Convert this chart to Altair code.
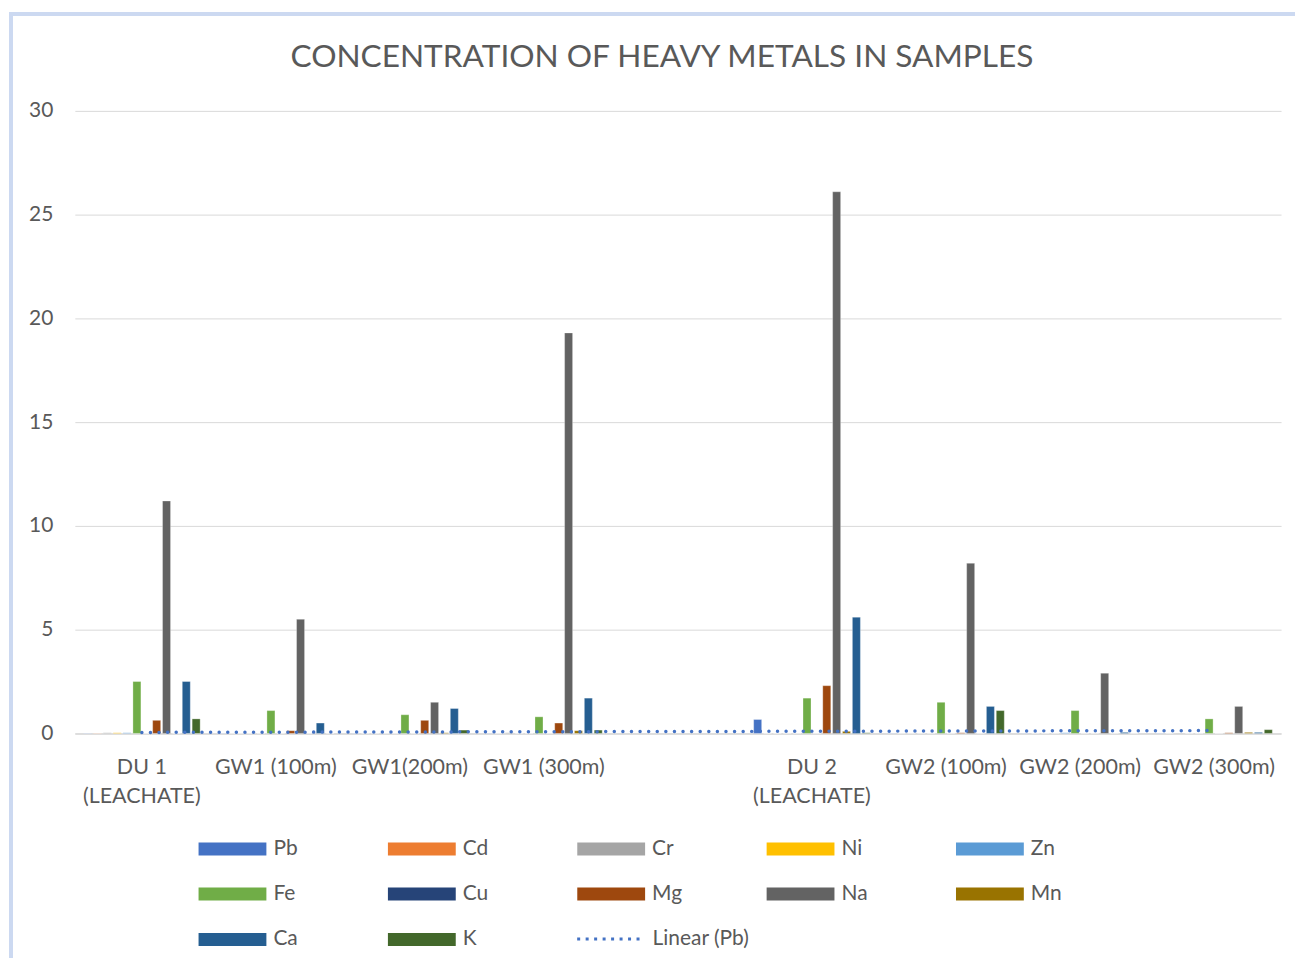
import altair as alt
import pandas as pd

categories = ["DU 1 (LEACHATE)", "GW1 (100m)", "GW1(200m)", "GW1 (300m)", " ",
              "DU 2 (LEACHATE)", "GW2 (100m)", "GW2 (200m)", "GW2 (300m)"]
metals = ["Pb", "Cd", "Cr", "Ni", "Zn", "Fe", "Cu", "Mg", "Na", "Mn", "Ca", "K"]
colors = ["#4472C4", "#ED7D31", "#A5A5A5", "#FFC000", "#5B9BD5", "#70AD47",
          "#264478", "#9E480E", "#636363", "#997300", "#255E91", "#43682B"]

# values per category (None = empty category)
Pb = [0.01, 0.01, 0.01, 0.01, None, 0.67, 0.01, 0.01, 0.01]
Cd = [0.01, 0.0, 0.0, 0.0, None, 0.0, 0.0, 0.0, 0.0]
Cr = [0.03, 0.0, 0.0, 0.03, None, 0.0, 0.0, 0.0, 0.02]
Ni = [0.03, 0.0, 0.0, 0.0, None, 0.0, 0.0, 0.0, 0.0]
Zn = [0.03, 0.0, 0.0, 0.0, None, 0.0, 0.0, 0.03, 0.0]
Fe = [2.5, 1.1, 0.9, 0.8, None, 1.7, 1.5, 1.1, 0.7]
Cu = [0.0, 0.0, 0.0, 0.0, None, 0.0, 0.0, 0.0, 0.0]
Mg = [0.63, 0.13, 0.63, 0.5, None, 2.3, 0.03, 0.0, 0.03]
Na = [11.2, 5.5, 1.5, 19.3, None, 26.1, 8.2, 2.9, 1.3]
Mn = [0.0, 0.0, 0.03, 0.13, None, 0.1, 0.0, 0.0, 0.05]
Ca = [2.5, 0.5, 1.2, 1.7, None, 5.6, 1.3, 0.05, 0.05]
K = [0.7, 0.0, 0.16, 0.16, None, 0.03, 1.1, 0.0, 0.18]

series = {"Pb": Pb, "Cd": Cd, "Cr": Cr, "Ni": Ni, "Zn": Zn, "Fe": Fe, "Cu": Cu,
          "Mg": Mg, "Na": Na, "Mn": Mn, "Ca": Ca, "K": K}

rows = []
for i, cat in enumerate(categories):
    for m in metals:
        v = series[m][i]
        if v is not None:
            rows.append({"category": cat, "metal": m, "value": v})
df = pd.DataFrame(rows)

trend_df = pd.DataFrame([{"idx": i + 1, "Pb": v} for i, v in enumerate(Pb) if v is not None])

FONT = "Lato"
GRAY = "#595959"

border = alt.Chart(pd.DataFrame({"a": [0]})).mark_rect(
    fillOpacity=0, stroke="#CCD9F1", strokeWidth=4
).encode(
    x=alt.value(-64), x2=alt.value(1400), y=alt.value(-97), y2=alt.value(1000)
)

bars = alt.Chart(df).mark_bar(stroke="white", strokeWidth=0.6, strokeOpacity=0.5).encode(
    x=alt.X("category:N", sort=categories,
            scale=alt.Scale(domain=categories, paddingInner=0.13, paddingOuter=0.065),
            axis=alt.Axis(title=None, labelAngle=0, ticks=False, grid=False,
                          domainColor="#D9D9D9", domainWidth=1.5,
                          labelFont=FONT, labelFontSize=21.5, labelColor=GRAY,
                          labelPadding=23, labelLineHeight=29, labelOverlap=False,
                          labelExpr="split(replace(datum.label, ' (LEACHATE)', '|(LEACHATE)'), '|')")),
    xOffset=alt.XOffset("metal:N", sort=metals,
                        scale=alt.Scale(domain=metals, paddingInner=0.19, paddingOuter=0)),
    y=alt.Y("value:Q", scale=alt.Scale(domain=[0, 30], nice=False),
            axis=alt.Axis(title=None, values=[0, 5, 10, 15, 20, 25, 30], ticks=False,
                          domain=False, gridColor="#D9D9D9", gridWidth=1,
                          labelFont=FONT, labelFontSize=21, labelColor=GRAY,
                          labelPadding=22)),
    fill=alt.Fill("metal:N", scale=alt.Scale(domain=metals, range=colors),
                  legend=alt.Legend(title=None, orient="none", legendX=120, legendY=729,
                                    columns=5, direction="horizontal", gridAlign="all",
                                    symbolType="M-1,-1H9.46V1H-1Z", symbolSize=169,
                                    symbolStrokeWidth=0, labelOffset=58,
                                    columnPadding=78.8, rowPadding=23.5,
                                    labelFont=FONT, labelFontSize=21, labelColor=GRAY)),
)

trend = alt.Chart(trend_df).transform_regression(
    "idx", "Pb", extent=[1, 9]
).transform_calculate(series="'Linear (Pb)'").mark_line(
    strokeWidth=3.5, strokeCap="round", strokeDash=[0.01, 8.6]
).encode(
    x=alt.X("idx:Q", scale=alt.Scale(domain=[0.5, 9.5], nice=False, zero=False), axis=None),
    y=alt.Y("Pb:Q", title=None),
    stroke=alt.Stroke("series:N", scale=alt.Scale(domain=["Linear (Pb)"], range=["#4472C4"]),
                      legend=alt.Legend(title=None, orient="none", legendX=502, legendY=797,
                                        symbolType="stroke", symbolSize=3969,
                                        symbolStrokeWidth=3, symbolDash=[3, 5.5],
                                        labelOffset=11, labelFont=FONT, labelFontSize=21,
                                        labelColor=GRAY)),
)

chart = alt.layer(border, bars, trend).resolve_scale(
    x="independent"
).properties(
    width=1209, height=624,
    title=alt.Title("CONCENTRATION OF HEAVY METALS IN SAMPLES", font=FONT, fontSize=31.7,
                    fontWeight="normal", color=GRAY, dx=-16, offset=-87,
                    baseline="alphabetic"),
    autosize=alt.AutoSizeParams(type="none"),
    padding={"left": 67, "top": 102, "right": 14, "bottom": 224},
).configure_view(stroke=None)

chart.save("out.html", embed_options={"renderer": "svg", "actions": False})
